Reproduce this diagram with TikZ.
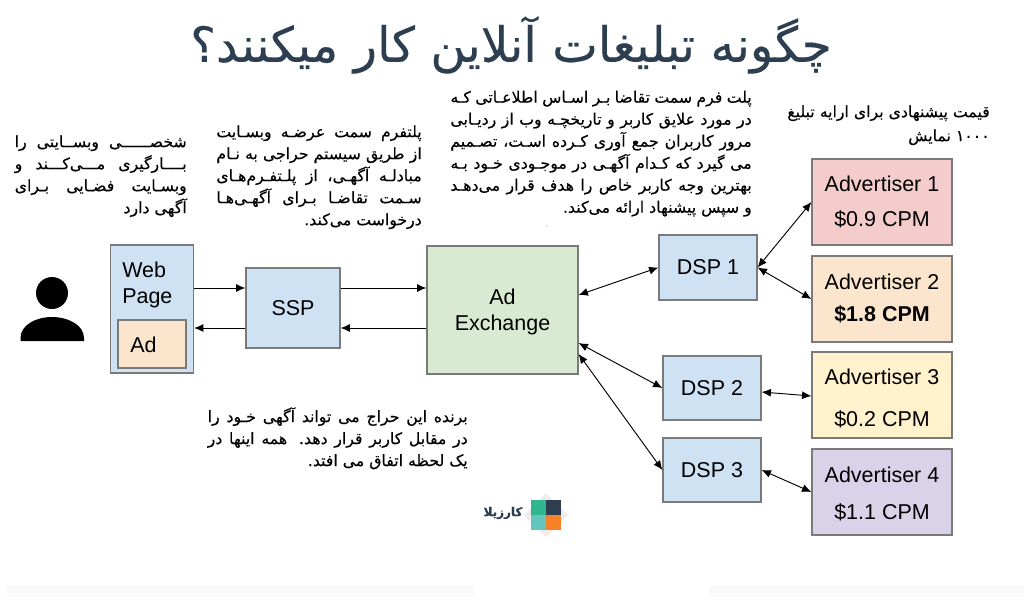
\documentclass[tikz,border=0pt]{standalone}
\usepackage{fontspec}
\setmainfont{Liberation Sans}
\newfontfamily\fa[Script=Arabic,FakeBold=0.3]{DejaVu Sans}
\TeXXeTstate=1
\usetikzlibrary{arrows.meta}
\definecolor{ttl}{HTML}{2C3E50}
\definecolor{bdr}{HTML}{7A7A7A}
\definecolor{cblue}{HTML}{CFE2F3}
\definecolor{cpeach}{HTML}{FCE5CD}
\definecolor{cgreen}{HTML}{D9EAD3}
\definecolor{cred}{HTML}{F4CCCC}
\definecolor{cyel}{HTML}{FFF2CC}
\definecolor{cpur}{HTML}{D9D2E9}
\definecolor{lga}{HTML}{2FB68E}
\definecolor{lgb}{HTML}{2C3E50}
\definecolor{lgc}{HTML}{63C5BD}
\definecolor{lgd}{HTML}{F9812A}
\newcommand\jl[2]{\hbox to #1{#2}}
\newcommand\rl[2]{\hbox to #1{\hfill #2}}
\newcommand\boxlabelfont{\fontsize{16.1pt}{19.5pt}\selectfont}
\tikzset{
  x=0.75pt,y=-0.75pt,
  boxn/.style={draw=bdr,line width=0.9pt,inner sep=0pt,font=\boxlabelfont,align=center},
  para/.style={inner sep=0pt,anchor=north east,align=right,font=\fa\fontsize{11.8pt}{16.5pt}\selectfont},
  lbl/.style={inner sep=0pt,anchor=west,align=left,font=\boxlabelfont},
  link/.style={black,line width=0.7pt,-{Latex[length=7pt,width=6pt]}},
  dbl/.style={black,line width=0.7pt,{Latex[length=7pt,width=6pt]}-{Latex[length=7pt,width=6pt]}},
}
\newcommand\bx[7]{\node[boxn,fill=#6,minimum width=#4*0.75pt,minimum height=#5*0.75pt] (#1) at (#2,#3) {#7};}
\begin{document}
\begin{tikzpicture}
\useasboundingbox (0,0) rectangle (1024,611);
\fill[white] (0,0) rectangle (1024,611);
\fill[black!2] (7,585) rectangle (474,597);
\fill[black!2] (709,585) rectangle (1024,597);
% title
\node[inner sep=0pt,text=ttl,font=\fa\fontsize{36.4pt}{42pt}\selectfont] (title) at (511,45) {\beginR چگونه تبلیغات آنلاین کار  میکنند؟\endR};
% paragraphs
\node[para] (p1) at (187,135) {%
\jl{129pt}{\beginR شخصــــــی وبســایتی را\endR}\\
\jl{129pt}{\beginR بــــارگیری مـــی‌کـــند و\endR}\\
\jl{129pt}{\beginR وبسـایت فضـایی بـرای\endR}\\
\rl{129pt}{\beginR آگهی دارد\endR}};
\node[para] (p2) at (422,125) {%
\jl{154pt}{\beginR پلتفرم سمت عرضـه وبسـایت\endR}\\
\jl{154pt}{\beginR از طریق سیستم حراجی به نـام\endR}\\
\jl{154pt}{\beginR مبادلـه آگهـی، از پلـتفـرم‌هـای\endR}\\
\jl{154pt}{\beginR سـمت تقاضـا بـرای آگهـی‌هـا\endR}\\
\rl{154pt}{\beginR درخواست می‌کند.\endR}};
\node[para] (p3) at (752,90.5) {%
\jl{226pt}{\beginR پلت فرم سمت تقاضا بـر اسـاس اطلاعـاتی کـه\endR}\\
\jl{226pt}{\beginR در مورد علایق کاربر و تاریخچـه وب از ردیـابی\endR}\\
\jl{226pt}{\beginR مرور کاربران جمع آوری کـرده اسـت، تصـمیم\endR}\\
\jl{226pt}{\beginR می گیرد که کـدام آگهـی در موجـودی خـود بـه\endR}\\
\jl{226pt}{\beginR بهترین وجه کاربر خاص را هدف قرار می‌دهـد\endR}\\
\rl{226pt}{\beginR و سپس پیشنهاد ارائه می‌کند.\endR}};
\node[para] (p4) at (990,105) {%
\rl{165pt}{\beginR قیمت پیشنهادی برای ارایه تبلیغ\endR}\\[1.5pt]
\rl{165pt}{\beginR ۱۰۰۰ نمایش\endR}};
\node[para] (p5) at (468,407) {%
\jl{195pt}{\beginR برنده این حراج می تواند آگهی خـود را\endR}\\
\jl{195pt}{\beginR در مقابل کاربر قرار دهد. همه اینها در\endR}\\
\rl{195pt}{\beginR یک لحظه اتفاق می افتد.\endR}};
% person
\fill[black] (52,293) circle (16);
\fill[black] (20.5,341) -- (20.5,338) .. controls (20.5,325) and (36,317) .. (52,317) .. controls (68,317) and (84,325) .. (84,338) -- (84,341) -- cycle;
% boxes
\bx{web}{152}{309}{83}{128}{cblue}{}
\node[lbl] (webtxt) at (122,285) {Web\\Page};
\bx{ad}{152}{344}{68}{48}{cpeach}{}
\node[lbl] (adtxt) at (130,345) {Ad};
\bx{ssp}{293}{308}{94}{80}{cblue}{SSP}
\bx{adx}{502.5}{310}{151}{128}{cgreen}{\rule{0pt}{14.8pt}Ad\\Exchange}
\bx{dspa}{708}{267.5}{98}{65}{cblue}{DSP 1}
\bx{dspb}{712}{388}{98}{64}{cblue}{DSP 2}
\bx{dspc}{712}{470}{98}{64}{cblue}{DSP 3}
\bx{adva}{882}{202}{140}{86}{cred}{Advertiser 1\\[6.5pt]\$0.9 CPM}
\bx{advb}{882}{299}{140}{86}{cpeach}{Advertiser 2\\[4.5pt]\textbf{\$1.8 CPM}}
\bx{advc}{882}{395}{140}{86}{cyel}{\rule{0pt}{16.3pt}Advertiser 3\\[12pt]\$0.2 CPM}
\bx{advd}{882}{492}{140}{86}{cpur}{\rule{0pt}{14.8pt}Advertiser 4\\[8.5pt]\$1.1 CPM}
% connectors
\draw[link] ([shift={(0,-21)}]web.east) -- ([shift={(0,-20)}]ssp.west);
\draw[link] ([shift={(0,20)}]ssp.west) -- ([shift={(0,19)}]web.east);
\draw[link] ([shift={(0,-20)}]ssp.east) -- ([shift={(0,-22)}]adx.west);
\draw[link] ([shift={(0,18)}]adx.west) -- ([shift={(0,20)}]ssp.east);
\draw[dbl] ([shift={(0,-15)}]adx.east) -- (dspa.west);
\draw[dbl] ([shift={(0,33)}]adx.east) -- (dspb.west);
\draw[dbl] ([shift={(0,44)}]adx.east) -- (dspc.west);
\draw[dbl] (dspa.east) -- (adva.west);
\draw[dbl] (dspa.east) -- (advb.west);
\draw[dbl] ([shift={(0,4)}]dspb.east) -- ([shift={(0,1)}]advc.west);
\draw[dbl] (dspc.east) -- (advd.west);
% logo
\fill[black!7] (546,493) -- (568,515) -- (546,537) -- (524,515) -- cycle;
\fill[lga] (531,500) rectangle (546,515);
\fill[lgb] (546,500) rectangle (561,515);
\fill[lgc] (531,515) rectangle (546,530);
\fill[lgd] (546,515) rectangle (561,530);
\node[inner sep=0pt,text=lgb,font=\fa\bfseries\fontsize{9pt}{11pt}\selectfont] (logotxt) at (503,513) {\beginR کارزیلا\endR};
\fill[black!50] (547,226) circle (0.7);
\end{tikzpicture}
\end{document}
